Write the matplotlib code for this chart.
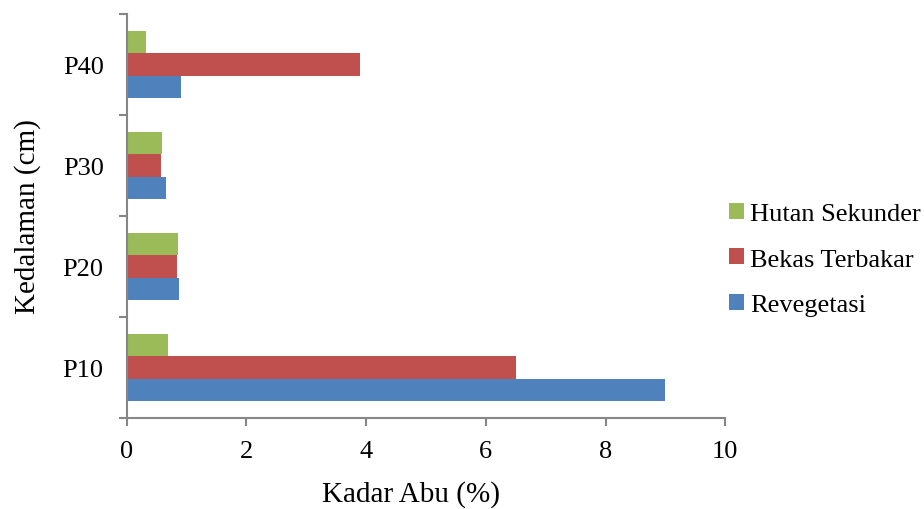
import matplotlib
matplotlib.use("Agg")
import matplotlib.pyplot as plt
from matplotlib.patches import Patch
import numpy as np

plt.rcParams['font.family'] = ['Liberation Serif', 'DejaVu Serif']

categories = ["P10", "P20", "P30", "P40"]
revegetasi = [9.0, 0.88, 0.65, 0.91]
bekas_terbakar = [6.5, 0.84, 0.57, 3.9]
hutan_sekunder = [0.69, 0.86, 0.59, 0.32]
series_names = ["Revegetasi", "Bekas Terbakar", "Hutan Sekunder"]
colors = ["#4F81BD", "#C0504D", "#9BBB59"]
x_ticks = [0, 2, 4, 6, 8, 10]

fig = plt.figure(figsize=(9.24, 5.10), dpi=100)
ax = fig.add_axes([0.137, 0.178, 0.648, 0.793])

y = np.arange(len(categories))
h = 0.222
for i, (vals, col) in enumerate(zip([revegetasi, bekas_terbakar, hutan_sekunder], colors)):
    ax.barh(y + (i - 1) * h, vals, height=h, color=col, edgecolor='none')

ax.set_xlim(0, 10)
ax.set_ylim(-0.5, len(categories) - 0.5)

axis_color = "#868686"
for side in ["top", "right"]:
    ax.spines[side].set_visible(False)
for side in ["left", "bottom"]:
    ax.spines[side].set_color(axis_color)
    ax.spines[side].set_linewidth(1.5)

ax.set_xticks(x_ticks)
ax.set_xticklabels([str(t) for t in x_ticks])
ax.tick_params(axis='x', direction='out', length=6, width=1.5, color=axis_color,
               labelsize=19, pad=10)

ax.set_yticks(y)
ax.set_yticklabels(categories)
ax.set_yticks(np.arange(-0.5, len(categories)), minor=True)
ax.tick_params(axis='y', which='major', length=0, labelsize=19, pad=16.5)
ax.tick_params(axis='y', which='minor', direction='out', length=6, width=1.5, color=axis_color)

ax.set_xlabel("Kadar Abu (%)", fontsize=21)
ax.set_ylabel("Kedalaman (cm)", fontsize=21)
ax.xaxis.set_label_coords(0.475, -0.152)
ax.yaxis.set_label_coords(-0.143, 0.5)

handles = [Patch(facecolor=colors[i], edgecolor='none') for i in [2, 1, 0]]
labels = [series_names[i] for i in [2, 1, 0]]
fig.legend(handles, labels, loc='center left', bbox_to_anchor=(0.789, 0.489),
           frameon=False, fontsize=19, handlelength=0.55, handleheight=0.55,
           handletextpad=0.25, labelspacing=0.88, borderpad=0, borderaxespad=0)

fig.savefig("out.png", dpi=100)
